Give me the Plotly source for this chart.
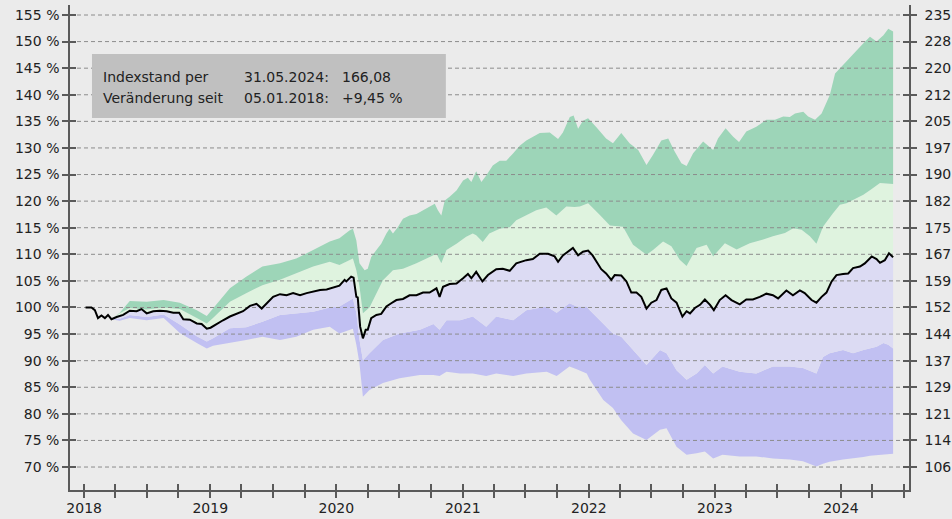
import plotly.graph_objects as go
import pandas as pd

# ---------------- data ----------------
line_dates = [
    "2018-01-05", "2018-01-22", "2018-02-01", "2018-02-10", "2018-02-20", "2018-03-02",
    "2018-03-11", "2018-03-21", "2018-04-05", "2018-04-24", "2018-05-13", "2018-06-02",
    "2018-06-16", "2018-07-01", "2018-07-20", "2018-08-08", "2018-08-28", "2018-09-16",
    "2018-10-03", "2018-10-15", "2018-11-03", "2018-11-23", "2018-12-07", "2018-12-22",
    "2019-01-02", "2019-01-19", "2019-02-07", "2019-02-27", "2019-03-18", "2019-04-06",
    "2019-04-26", "2019-05-15", "2019-05-30", "2019-06-13", "2019-07-02", "2019-07-22",
    "2019-08-10", "2019-08-29", "2019-09-18", "2019-10-07", "2019-10-26", "2019-11-15",
    "2019-12-04", "2019-12-23", "2020-01-10", "2020-01-25", "2020-01-30", "2020-02-13",
    "2020-02-20", "2020-02-28", "2020-03-03", "2020-03-10", "2020-03-18", "2020-03-26",
    "2020-04-01", "2020-04-11", "2020-04-26", "2020-05-10", "2020-05-25", "2020-06-08",
    "2020-06-23", "2020-07-12", "2020-07-31", "2020-08-20", "2020-09-08", "2020-09-27",
    "2020-10-17", "2020-10-26", "2020-11-05", "2020-11-24", "2020-12-14", "2021-01-02",
    "2021-01-16", "2021-01-26", "2021-02-09", "2021-02-27", "2021-03-15", "2021-04-08",
    "2021-04-27", "2021-05-17", "2021-06-05", "2021-07-04", "2021-07-23", "2021-08-12",
    "2021-09-05", "2021-09-24", "2021-10-04", "2021-10-18", "2021-11-02", "2021-11-16",
    "2021-12-01", "2021-12-15", "2021-12-30", "2022-01-12", "2022-02-06", "2022-02-20",
    "2022-03-07", "2022-03-17", "2022-04-05", "2022-04-20", "2022-05-04", "2022-05-19",
    "2022-06-02", "2022-06-17", "2022-07-01", "2022-07-16", "2022-07-30", "2022-08-14",
    "2022-08-28", "2022-09-12", "2022-09-29", "2022-10-11", "2022-10-21", "2022-11-04",
    "2022-11-19", "2022-12-03", "2022-12-18", "2022-12-29", "2023-01-15", "2023-02-01",
    "2023-02-18", "2023-03-14", "2023-04-02", "2023-04-21", "2023-05-11", "2023-05-30",
    "2023-06-18", "2023-07-03", "2023-07-27", "2023-08-15", "2023-09-04", "2023-09-18",
    "2023-10-08", "2023-10-22", "2023-11-06", "2023-11-20", "2023-12-05", "2023-12-19",
    "2024-01-07", "2024-01-22", "2024-02-05", "2024-02-25", "2024-03-10", "2024-03-30",
    "2024-04-13", "2024-04-23", "2024-05-07", "2024-05-19", "2024-05-31",
]
line_values = [
    100.0, 100.0, 99.5, 98.0, 98.5, 98.0,
    98.6, 97.8, 98.2, 98.6, 99.4, 99.3,
    99.7, 98.9, 99.3, 99.4, 99.3, 99.0,
    99.0, 97.8, 97.7, 97.0, 96.9, 96.0,
    96.2, 96.9, 97.6, 98.3, 98.8, 99.3,
    100.3, 100.7, 99.8, 100.7, 102.0, 102.5,
    102.3, 102.7, 102.3, 102.7, 103.0, 103.3,
    103.4, 103.8, 104.1, 105.2, 104.9, 105.8,
    105.6, 102.0, 101.9, 96.4, 94.2, 95.8,
    95.8, 98.0, 98.6, 98.8, 100.2, 100.8,
    101.4, 101.6, 102.3, 102.3, 102.8, 102.8,
    103.6, 102.0, 103.9, 104.4, 104.5, 105.5,
    106.3, 105.5, 106.7, 104.9, 106.1, 107.2,
    107.3, 106.9, 108.3, 108.9, 109.1, 110.1,
    110.1, 109.6, 108.6, 109.8, 110.5, 111.2,
    109.8, 110.5, 110.7, 109.8, 107.2, 106.4,
    105.2, 106.1, 106.0, 104.9, 102.8, 102.8,
    102.0, 99.8, 100.9, 101.4, 103.3, 103.6,
    101.7, 100.9, 98.3, 99.3, 98.9, 99.9,
    100.5, 101.5, 100.5, 99.5, 101.4, 102.3,
    101.4, 100.6, 101.5, 101.5, 102.0, 102.6,
    102.3, 101.7, 103.2, 102.3, 103.2, 102.7,
    101.4, 100.9, 102.0, 102.8, 104.9, 106.1,
    106.3, 106.4, 107.4, 107.7, 108.3, 109.6,
    109.1, 108.4, 108.9, 110.2, 109.45,
]

# upper edge of the dark green band
max_dates = [
    "2018-03-21", "2018-04-14", "2018-05-13", "2018-07-01", "2018-08-19", "2018-10-05",
    "2018-11-23", "2018-12-22", "2019-01-09", "2019-02-27", "2019-04-15", "2019-06-01",
    "2019-07-22", "2019-09-07", "2019-10-26", "2019-12-13", "2020-01-10", "2020-02-08",
    "2020-02-18", "2020-02-28", "2020-03-08", "2020-03-23", "2020-04-01", "2020-04-11",
    "2020-04-26", "2020-05-10", "2020-05-25", "2020-06-03", "2020-06-13", "2020-06-27",
    "2020-07-12", "2020-07-31", "2020-08-20", "2020-09-08", "2020-09-27", "2020-10-12",
    "2020-10-21", "2020-10-31", "2020-11-10", "2020-11-24", "2020-12-14", "2021-01-02",
    "2021-01-16", "2021-01-26", "2021-02-09", "2021-02-24", "2021-03-10", "2021-03-29",
    "2021-04-18", "2021-05-07", "2021-05-26", "2021-06-15", "2021-07-04", "2021-07-23",
    "2021-08-12", "2021-09-10", "2021-10-04", "2021-10-18", "2021-11-07", "2021-11-18",
    "2021-12-01", "2021-12-15", "2021-12-30", "2022-01-23", "2022-02-11", "2022-02-20",
    "2022-03-12", "2022-04-05", "2022-04-29", "2022-05-24", "2022-06-17", "2022-07-06",
    "2022-07-30", "2022-08-19", "2022-09-07", "2022-09-26", "2022-10-11", "2022-10-30",
    "2022-11-28", "2022-12-13", "2022-12-27", "2023-01-10", "2023-02-01", "2023-02-23",
    "2023-03-12", "2023-04-02", "2023-05-01", "2023-05-30", "2023-06-24", "2023-07-18",
    "2023-08-06", "2023-08-21", "2023-09-14", "2023-09-28", "2023-10-18", "2023-11-06",
    "2023-11-30", "2023-12-15", "2024-01-07", "2024-02-05", "2024-03-06", "2024-03-25",
    "2024-04-13", "2024-05-03", "2024-05-17", "2024-05-31",
]
max_values = [
    97.8, 99.0, 101.2, 101.1, 101.4, 100.9,
    99.5, 98.4, 99.8, 103.6, 105.8, 107.7,
    108.3, 109.2, 110.8, 112.4, 113.0, 114.5,
    114.8, 112.6, 108.3, 107.0, 107.3, 109.5,
    110.8, 112.0, 113.9, 114.8, 113.9, 115.1,
    116.7, 117.3, 117.6, 118.3, 119.0, 119.5,
    118.3, 117.3, 120.1, 120.8, 122.0, 123.9,
    124.4, 123.6, 125.6, 123.6, 124.8, 126.7,
    127.6, 127.6, 128.9, 130.4, 131.4, 132.1,
    132.8, 132.9, 131.7, 132.9, 135.8, 136.1,
    133.6, 135.1, 135.6, 133.9, 132.6, 131.8,
    130.9, 132.8, 130.9, 129.6, 126.8, 128.7,
    131.4, 131.8, 129.3, 127.1, 126.6, 129.0,
    131.2, 130.3, 129.6, 131.8, 133.7, 132.1,
    131.1, 133.1, 134.0, 135.3, 135.3, 135.9,
    135.8, 136.5, 136.8, 135.9, 135.3, 136.5,
    140.0, 144.0, 145.6, 147.8, 149.7, 150.9,
    150.0, 151.2, 152.4, 151.9,
]

# upper edge of the light green band
upper_dates = [
    "2018-03-21", "2018-04-14", "2018-05-13", "2018-07-01", "2018-08-19", "2018-10-05",
    "2018-11-23", "2018-12-22", "2019-01-09", "2019-02-27", "2019-04-15", "2019-06-01",
    "2019-07-22", "2019-09-07", "2019-10-26", "2019-12-13", "2020-01-10", "2020-02-18",
    "2020-02-28", "2020-03-08", "2020-03-18", "2020-04-06", "2020-05-15", "2020-06-13",
    "2020-07-12", "2020-08-20", "2020-09-27", "2020-10-17", "2020-10-31", "2020-11-15",
    "2020-12-14", "2021-01-11", "2021-01-30", "2021-02-09", "2021-02-28", "2021-03-19",
    "2021-04-18", "2021-05-17", "2021-06-05", "2021-07-04", "2021-08-02", "2021-08-31",
    "2021-09-29", "2021-10-28", "2021-11-21", "2021-12-06", "2021-12-30", "2022-02-02",
    "2022-03-03", "2022-04-10", "2022-05-09", "2022-06-17", "2022-07-06", "2022-08-04",
    "2022-08-28", "2022-09-21", "2022-10-11", "2022-11-09", "2022-12-08", "2022-12-27",
    "2023-01-30", "2023-03-05", "2023-04-12", "2023-05-21", "2023-06-18", "2023-07-23",
    "2023-08-16", "2023-09-09", "2023-10-03", "2023-10-22", "2023-11-10", "2023-12-09",
    "2023-12-29", "2024-01-17", "2024-02-11", "2024-03-06", "2024-03-30", "2024-04-23",
    "2024-05-12", "2024-05-31",
]
upper_values = [
    97.8, 98.9, 99.9, 99.6, 100.0, 99.7,
    98.0, 97.0, 98.0, 101.1, 102.7, 104.2,
    105.2, 106.4, 107.7, 108.6, 108.0, 109.2,
    107.0, 104.0, 98.9, 100.0, 105.1, 107.0,
    107.3, 108.3, 109.5, 110.1, 108.3, 110.8,
    112.0, 113.3, 113.9, 113.6, 112.3, 113.9,
    114.8, 115.1, 116.4, 117.3, 118.3, 118.8,
    117.3, 119.0, 118.9, 119.0, 119.6, 117.4,
    115.4, 115.2, 111.8, 109.9, 110.8, 112.4,
    111.5, 109.0, 107.8, 111.2, 111.8, 109.6,
    112.1, 110.9, 112.1, 112.8, 113.4, 114.0,
    114.9, 114.6, 113.4, 112.0, 115.2, 117.7,
    119.3, 119.6, 120.4, 121.2, 122.3, 123.4,
    123.3, 123.2,
]

# lower bands (dark purple top edge and bottom edge)
band_dates = [
    "2018-03-21", "2018-04-14", "2018-05-13", "2018-07-01", "2018-08-19", "2018-10-05",
    "2018-11-23", "2018-12-22", "2019-01-09", "2019-02-27", "2019-04-15", "2019-06-01",
    "2019-07-22", "2019-09-07", "2019-10-26", "2019-12-13", "2020-01-10", "2020-02-18",
    "2020-02-28", "2020-03-08", "2020-03-18", "2020-04-06", "2020-05-15", "2020-07-02",
    "2020-08-30", "2020-10-08", "2020-10-26", "2020-11-15", "2020-12-24", "2021-01-30",
    "2021-03-10", "2021-04-08", "2021-05-27", "2021-07-04", "2021-09-01", "2021-09-30",
    "2021-11-06", "2021-11-27", "2021-12-26", "2022-01-04", "2022-02-12", "2022-03-12",
    "2022-04-05", "2022-05-09", "2022-06-17", "2022-07-26", "2022-08-14", "2022-09-12",
    "2022-10-11", "2022-11-09", "2022-12-03", "2022-12-27", "2023-01-23", "2023-03-14",
    "2023-05-01", "2023-06-18", "2023-08-06", "2023-09-13", "2023-10-22", "2023-11-10",
    "2023-11-29", "2024-01-07", "2024-02-05", "2024-03-06", "2024-03-25", "2024-04-13",
    "2024-05-03", "2024-05-17", "2024-05-31",
]
band_lower = [
    97.8, 97.9, 98.6, 98.2, 98.7, 96.8,
    94.6, 93.6, 94.2, 96.1, 96.3, 97.3,
    98.6, 98.9, 99.2, 100.0, 100.2, 101.7,
    99.0, 94.0, 90.1, 91.4, 93.9, 95.1,
    95.8, 96.9, 95.8, 97.6, 97.6, 98.3,
    96.4, 98.3, 97.6, 99.5, 100.2, 99.0,
    100.8, 100.2, 100.2, 99.5, 97.0, 95.1,
    94.5, 92.0, 89.2, 92.0, 91.4, 88.2,
    86.4, 87.6, 89.2, 87.6, 88.9, 87.9,
    87.6, 88.9, 88.9, 88.6, 87.6, 90.7,
    91.4, 92.0, 91.4, 92.0, 92.3, 92.6,
    93.3, 93.0, 92.3,
]
band_min = [
    97.8, 97.5, 98.0, 97.6, 98.0, 95.2,
    93.3, 92.3, 92.8, 93.3, 93.9, 94.5,
    93.9, 94.5, 95.8, 96.4, 95.1, 96.0,
    93.0, 89.5, 83.2, 84.5, 85.8, 86.7,
    87.3, 87.3, 87.1, 87.9, 87.6, 87.6,
    87.1, 87.6, 87.1, 87.6, 87.9, 87.1,
    88.9, 88.4, 87.6, 86.4, 82.6, 81.1,
    78.8, 76.3, 75.1, 77.0, 77.3, 73.8,
    72.3, 72.6, 72.9, 71.6, 72.3, 72.0,
    72.0, 71.6, 71.4, 71.1, 70.1, 70.6,
    71.0, 71.4, 71.6, 71.9, 72.1, 72.2,
    72.3, 72.4, 72.5,
]

y_tick_pct = [70, 75, 80, 85, 90, 95, 100, 105, 110, 115, 120, 125, 130, 135, 140, 145, 150, 155]
y_tick_left_labels = [f"{v} %" for v in y_tick_pct]
y_tick_right_labels = ["106", "114", "121", "129", "137", "144", "152", "159", "167",
                       "175", "182", "190", "197", "205", "212", "220", "228", "235"]
x_tick_dates = [d.strftime("%Y-%m-%d") for d in pd.date_range("2018-01-01", "2024-07-01", freq="QS")]
x_tick_labels = [d[:4] if d[5:7] == "01" else "" for d in x_tick_dates]

info_labels = ["Indexstand per", "Veränderung seit"]
info_dates = ["31.05.2024:", "05.01.2018:"]
info_values = ["166,08", "+9,45 %"]

x_range = ["2017-11-21", "2024-07-16"]
y_range = [65.68, 156.88]

# ---------------- styling ----------------
BG = "#ebebeb"
C_MAX = "#9dd5b8"
C_UP = "#dff3df"
C_LOW = "#dcdbf3"
C_MIN = "#c1c0f2"
FONT = "DejaVu Sans"
AX = "#5a5a5a"

fig = go.Figure()

def band(x, y, fill, color):
    fig.add_trace(go.Scatter(x=x, y=y, mode="lines", line=dict(width=0, color=color or BG),
                             fill=fill, fillcolor=color, hoverinfo="skip", showlegend=False))

sub = [(d, v) for d, v in zip(line_dates, line_values) if d >= band_dates[0]]
band(band_dates, band_min, "none", None)
band(band_dates, band_lower, "tonexty", C_MIN)
band([d for d, _ in sub], [v for _, v in sub], "tonexty", C_LOW)
band(upper_dates, upper_values, "tonexty", C_UP)
band(max_dates, max_values, "tonexty", C_MAX)

# dashed grid lines drawn above the bands
for v in y_tick_pct:
    fig.add_trace(go.Scatter(x=x_range, y=[v, v], mode="lines",
                             line=dict(color="#8c8c8c", width=1, dash="4px,3px"),
                             hoverinfo="skip", showlegend=False))

fig.add_trace(go.Scatter(x=line_dates, y=line_values, mode="lines",
                         line=dict(color="#000000", width=2), showlegend=False))

# dummy traces to register overlay axes
fig.add_trace(go.Scatter(x=[], y=[], xaxis="x2", yaxis="y", showlegend=False))
fig.add_trace(go.Scatter(x=[], y=[], xaxis="x", yaxis="y2", showlegend=False))
fig.add_trace(go.Scatter(x=[], y=[], xaxis="x", yaxis="y3", showlegend=False))
fig.add_trace(go.Scatter(x=[], y=[], xaxis="x", yaxis="y4", showlegend=False))

tickfont = dict(family=FONT, size=14, color="#222222")

# info box
fig.add_shape(type="rect", xref="paper", yref="paper", x0=0.0262, x1=0.448, y0=0.767, y1=0.899,
              fillcolor="#c0c0c0", line=dict(width=0), layer="above")
for i in range(2):
    yy = [0.852, 0.808][i]
    for xx, txt in zip([0.037, 0.2046, 0.3218], [info_labels[i], info_dates[i], info_values[i]]):
        fig.add_annotation(x=xx, y=yy, xref="paper", yref="paper", text=txt, showarrow=False,
                           xanchor="left", yanchor="middle", font=tickfont)

common_y = dict(range=y_range, tickvals=y_tick_pct, showgrid=False, zeroline=False, automargin=False,
                tickcolor=AX, ticklen=6, tickwidth=1.5, fixedrange=True)
common_x = dict(type="date", range=x_range, tickvals=x_tick_dates, showgrid=False, zeroline=False,
                automargin=False, tickcolor=AX, ticklen=6, tickwidth=1.5)

fig.update_layout(
    width=952, height=519,
    margin=dict(l=70, r=43, t=5, b=29, autoexpand=False),
    paper_bgcolor=BG, plot_bgcolor=BG,
    showlegend=False,
    font=dict(family=FONT, size=14, color="#222222"),
    xaxis=dict(**common_x, ticktext=x_tick_labels, ticks="outside", showline=True, linecolor=AX,
               linewidth=1.5, tickfont=tickfont, layer="above traces", ticklabelstandoff=-2),
    xaxis2=dict(**common_x, overlaying="x", anchor="y", side="bottom", ticks="inside",
                showticklabels=False, showline=False, layer="above traces"),
    yaxis=dict(**common_y, ticktext=y_tick_left_labels, ticks="outside", showline=True, linecolor=AX,
               linewidth=1.5, tickfont=tickfont, side="left", ticklabelstandoff=0, layer="above traces"),
    yaxis2=dict(**common_y, ticktext=y_tick_right_labels, ticks="outside", showline=True, linecolor=AX,
                linewidth=1.5, tickfont=tickfont, side="right", overlaying="y", anchor="x",
                ticklabelstandoff=5, layer="above traces"),
    yaxis3=dict(**common_y, ticks="inside", showticklabels=False, side="left", overlaying="y",
                anchor="x", layer="above traces"),
    yaxis4=dict(**common_y, ticks="inside", showticklabels=False, side="right", overlaying="y",
                anchor="x", layer="above traces"),
)

fig.write_html("out.html", config={"displayModeBar": False},
               post_script="document.body.style.margin='0px';")
